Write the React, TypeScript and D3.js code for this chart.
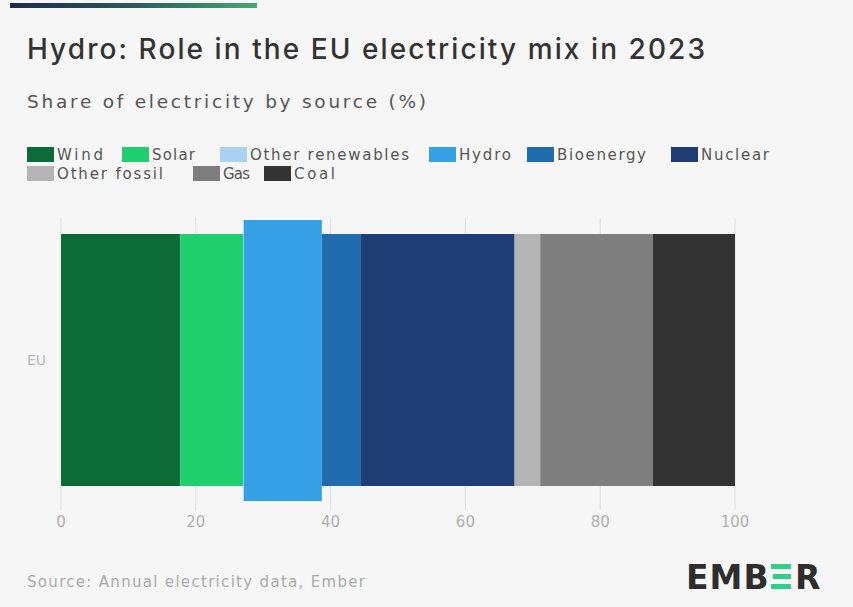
import React from "react";
import * as d3 from "d3";

const categories = ["EU"];
const sources = ["Wind", "Solar", "Other renewables", "Hydro", "Bioenergy", "Nuclear", "Other fossil", "Gas", "Coal"];
const shares = [17.7, 9.3, 0.1, 11.6, 5.8, 22.8, 3.8, 16.7, 12.2];
const colors = ["#0d6b38", "#1fce6c", "#a8d3f3", "#36a0e6", "#1f6cae", "#1e3d75", "#b4b4b4", "#7e7e7e", "#333333"];
const xTicks = [0, 20, 40, 60, 80, 100];
const highlight = "Hydro";

const W = 853;
const H = 607;
const FONT = "'DejaVu Sans', Inter, sans-serif";
const TITLE_FONT = "Inter, 'Open Sans', sans-serif";

export default function App() {
  const x = d3.scaleLinear().domain([0, 100]).range([61, 735]);
  const y = d3.scaleBand().domain(categories).range([234, 486]).padding(0);

  const stack = d3
    .stack<any>()
    .keys(sources)(categories.map((c) => {
      const row: any = { cat: c };
      sources.forEach((s, i) => (row[s] = shares[i]));
      return row;
    }));

  const rows = [sources.slice(0, 6), sources.slice(6)];
  const legendWidths: Record<string, number> = {
    Wind: 95, Solar: 98, "Other renewables": 209, Hydro: 98, Bioenergy: 144, Nuclear: 110,
    "Other fossil": 166, Gas: 71, Coal: 80,
  };
  const labelLen: Record<string, number> = {
    Wind: 46, Solar: 43, "Other renewables": 159, Hydro: 52, Bioenergy: 89, Nuclear: 68,
    "Other fossil": 106, Gas: 27, Coal: 41,
  };

  return (
    <svg width={W} height={H} style={{ position: "absolute", left: 0, top: 0, display: "block" }}>
      <rect x={0} y={0} width={W} height={H} fill="#f6f6f6" />
      <defs>
        <linearGradient id="topbar" x1="0" x2="1" y1="0" y2="0">
          <stop offset="0" stopColor="#1f2a4b" />
          <stop offset="0.5" stopColor="#2b5a5a" />
          <stop offset="1" stopColor="#43a877" />
        </linearGradient>
      </defs>
      <rect x={10} y={3} width={247} height={5} fill="url(#topbar)" />

      <text x={27} y={59} fontFamily={TITLE_FONT} fontSize={28} fill="#333" fontWeight={500} textLength={678} lengthAdjust="spacing">
        Hydro: Role in the EU electricity mix in 2023
      </text>
      <text x={27} y={108} fontFamily={FONT} fontSize={18.5} fill="#555" textLength={399} lengthAdjust="spacing">
        Share of electricity by source (%)
      </text>

      {rows.map((row, ri) => {
        let cx = 27;
        return row.map((s) => {
          const i = sources.indexOf(s);
          const gx = cx;
          cx += legendWidths[s];
          return (
            <g key={s} transform={`translate(${gx},${147 + ri * 19})`}>
              <rect x={0} y={0} width={27} height={15} fill={colors[i]} />
              <text x={30} y={12.5} fontFamily={FONT} fontSize={15} fill="#555" textLength={labelLen[s]} lengthAdjust="spacing">
                {s}
              </text>
            </g>
          );
        });
      })}

      {xTicks.map((t) => (
        <g key={t}>
          <line x1={x(t)} x2={x(t)} y1={218} y2={510} stroke="#dedede" strokeWidth={1} />
          <text x={x(t)} y={527} textAnchor="middle" fontFamily={FONT} fontSize={15} fill="#b0b0b0">
            {t}
          </text>
        </g>
      ))}

      {stack.map((layer, li) =>
        layer.map((d, di) => {
          const cat = categories[di];
          const isHi = sources[li] === highlight;
          const y0 = (y(cat) as number) - (isHi ? 14 : 0);
          const h = y.bandwidth() + (isHi ? 29 : 0);
          return (
            <rect
              key={sources[li] + cat}
              x={x(d[0])}
              y={y0}
              width={Math.max(0, x(d[1]) - x(d[0]))}
              height={h}
              fill={colors[li]}
            />
          );
        })
      )}

      {categories.map((c) => (
        <text key={c} x={27} y={(y(c) as number) + y.bandwidth() / 2 + 5} fontFamily={FONT} fontSize={14} fill="#bbb">
          {c}
        </text>
      ))}

      <text x={27} y={587} fontFamily={FONT} fontSize={15} fill="#aaa" textLength={338} lengthAdjust="spacing">
        Source: Annual electricity data, Ember
      </text>

      <g>
        <text x={686} y={589} fontFamily="'DejaVu Sans', sans-serif" fontWeight={700} fontSize={33} fill="#2e2e2e" letterSpacing={1}>
          EMB
        </text>
        <rect x={771} y={564} width={20} height={5} fill="#2fd08a" />
        <rect x={773} y={574} width={18} height={5} fill="#2fd08a" />
        <rect x={771} y={584} width={20} height={5} fill="#2fd08a" />
        <text x={795} y={589} fontFamily="'DejaVu Sans', sans-serif" fontWeight={700} fontSize={33} fill="#2e2e2e">
          R
        </text>
      </g>
    </svg>
  );
}
